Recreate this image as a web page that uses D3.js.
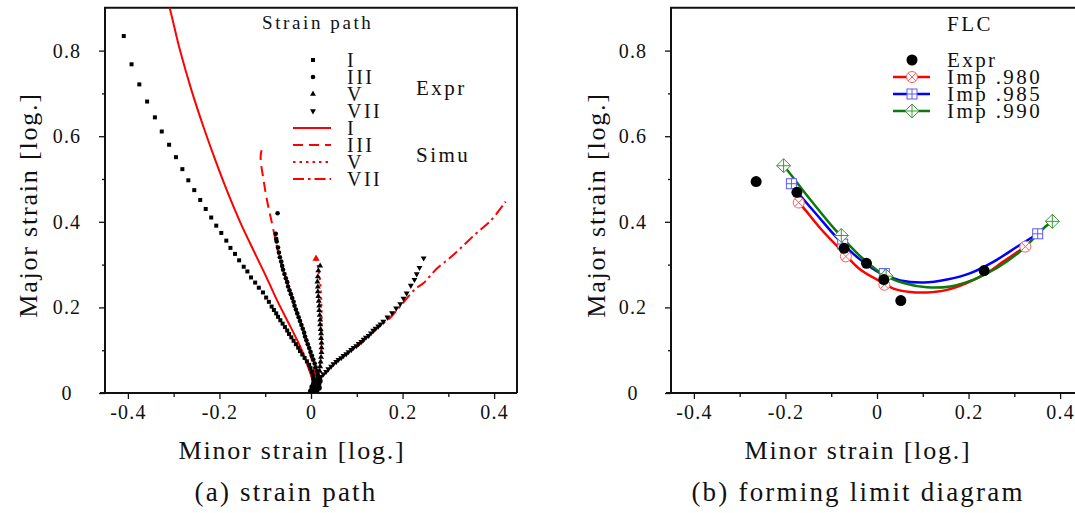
<!DOCTYPE html>
<html lang="en">
<head>
<meta charset="utf-8">
<title>strain path / forming limit diagram</title>
<script src="https://d3js.org/d3.v7.min.js"></script>
<style>
  body { margin: 0; background: #fff; }
  text { font-family: "Liberation Serif", "DejaVu Serif", serif; fill: #111; }
</style>
</head>
<body>
<svg width="1075" height="513"></svg>
<script>
// ticks
var xTicks = [-0.4, -0.2, 0, 0.2, 0.4];
var xMinor = [-0.3, -0.1, 0.1, 0.3];
var yTicks = [0, 0.2, 0.4, 0.6, 0.8];
var yMinor = [0.1, 0.3, 0.5, 0.7];

// (a) experimental strain paths [minor, major]
var expI = [[-0.409,0.834],[-0.392,0.768],[-0.375,0.721],[-0.358,0.681],[-0.341,0.644],[-0.326,0.611],[-0.310,0.580],[-0.295,0.551],[-0.281,0.523],[-0.268,0.497],[-0.255,0.474],[-0.242,0.451],[-0.230,0.430],[-0.218,0.410],[-0.207,0.391],[-0.196,0.374],[-0.185,0.356],[-0.176,0.339],[-0.166,0.325],[-0.157,0.310],[-0.147,0.295],[-0.139,0.284],[-0.131,0.270],[-0.122,0.258],[-0.114,0.246],[-0.105,0.235],[-0.098,0.223],[-0.092,0.213],[-0.086,0.202],[-0.081,0.194],[-0.076,0.186],[-0.072,0.178],[-0.067,0.170],[-0.062,0.162],[-0.057,0.154],[-0.052,0.146],[-0.048,0.138],[-0.043,0.130],[-0.038,0.122],[-0.033,0.114],[-0.028,0.106],[-0.024,0.098],[-0.019,0.090],[-0.014,0.082],[-0.009,0.074],[-0.004,0.066],[-0.001,0.058],[0.002,0.050],[0.004,0.042],[0.005,0.034],[0.006,0.026],[0.005,0.019],[0.004,0.012],[0.002,0.006],[0.000,0.001]];
var expIII = [[-0.073,0.420],[-0.077,0.372],[-0.076,0.360],[-0.075,0.354],[-0.072,0.340],[-0.070,0.328],[-0.068,0.317],[-0.065,0.307],[-0.063,0.297],[-0.061,0.288],[-0.058,0.278],[-0.055,0.268],[-0.052,0.259],[-0.050,0.249],[-0.047,0.240],[-0.044,0.231],[-0.041,0.222],[-0.038,0.213],[-0.036,0.204],[-0.033,0.195],[-0.030,0.186],[-0.027,0.177],[-0.024,0.168],[-0.021,0.159],[-0.018,0.150],[-0.015,0.141],[-0.013,0.132],[-0.010,0.123],[-0.007,0.114],[-0.004,0.105],[-0.001,0.096],[0.002,0.087],[0.005,0.078],[0.008,0.069],[0.010,0.060],[0.013,0.051],[0.015,0.042],[0.016,0.033],[0.015,0.024],[0.012,0.016],[0.008,0.009],[0.003,0.003]];
var expV = [[0.020,0.297],[0.016,0.286],[0.015,0.272],[0.014,0.260],[0.015,0.248],[0.015,0.237],[0.016,0.226],[0.017,0.215],[0.018,0.204],[0.018,0.193],[0.019,0.182],[0.020,0.171],[0.020,0.160],[0.021,0.149],[0.022,0.139],[0.022,0.128],[0.023,0.117],[0.023,0.106],[0.023,0.095],[0.022,0.084],[0.021,0.073],[0.020,0.062],[0.019,0.051],[0.017,0.040],[0.014,0.030],[0.009,0.019],[0.005,0.009],[0.001,0.002]];
var expVII = [[0.246,0.315],[0.237,0.293],[0.231,0.278],[0.226,0.265],[0.218,0.251],[0.209,0.233],[0.202,0.221],[0.195,0.208],[0.186,0.198],[0.177,0.187],[0.167,0.177],[0.158,0.167],[0.152,0.161],[0.147,0.156],[0.141,0.151],[0.136,0.146],[0.131,0.140],[0.126,0.134],[0.120,0.130],[0.115,0.125],[0.110,0.120],[0.104,0.115],[0.099,0.110],[0.093,0.106],[0.088,0.101],[0.082,0.096],[0.077,0.091],[0.071,0.087],[0.066,0.082],[0.060,0.078],[0.055,0.073],[0.049,0.068],[0.044,0.062],[0.038,0.056],[0.033,0.050],[0.027,0.044],[0.022,0.038],[0.018,0.033],[0.014,0.027],[0.011,0.021],[0.008,0.016],[0.005,0.011],[0.001,0.002]];
// start-up cluster where all paths leave the origin
var expStart = [[0.000,0.004],[0.004,0.008],[0.008,0.012],[0.011,0.018],[0.014,0.024],[0.003,0.014],[0.007,0.022],[0.010,0.030],[0.016,0.020],[0.019,0.028],[0.012,0.006],[0.017,0.012]];

// (a) simulated strain paths
var simI = [[-0.318,0.930],[-0.309,0.900],[-0.286,0.800],[-0.261,0.707],[-0.235,0.622],[-0.209,0.544],[-0.184,0.474],[-0.155,0.400],[-0.126,0.334],[-0.098,0.272],[-0.073,0.214],[-0.045,0.155],[-0.022,0.105],[-0.006,0.060],[0.003,0.030],[0.004,0.012],[0,0]];
var simIII = [[-0.108,0.567],[-0.110,0.553],[-0.109,0.535],[-0.104,0.500],[-0.097,0.455],[-0.088,0.410],[-0.080,0.370],[-0.072,0.330],[-0.062,0.290],[-0.050,0.250],[-0.036,0.203],[-0.020,0.155],[-0.006,0.105],[0.006,0.060],[0.010,0.030],[0.006,0.010],[0,0]];
var simV = [[0.011,0.314],[0.016,0.290],[0.020,0.258],[0.023,0.196],[0.023,0.134],[0.021,0.079],[0.016,0.040],[0.009,0.013],[0,0]];
var simVII = [[0,0],[0.010,0.015],[0.030,0.045],[0.060,0.077],[0.085,0.097],[0.107,0.114],[0.129,0.135],[0.151,0.157],[0.173,0.176],[0.199,0.208],[0.228,0.243],[0.246,0.257],[0.275,0.291],[0.305,0.317],[0.334,0.346],[0.363,0.375],[0.392,0.402],[0.425,0.447]];

// (b) forming limit curves
var flcExpr = [[-0.264,0.494],[-0.175,0.469],[-0.072,0.338],[-0.023,0.303],[0.015,0.265],[0.052,0.216],[0.234,0.286]];
var imp980 = [[-0.171,0.445],[-0.068,0.319],[0.016,0.253],[0.324,0.342]];
var imp985 = [[-0.187,0.489],[-0.075,0.348],[0.016,0.279],[0.351,0.372]];
var imp990 = [[-0.204,0.531],[-0.078,0.368],[0.020,0.273],[0.383,0.401]];
var fit980 = [[-0.171,0.445],[-0.160,0.432],[-0.124,0.385],[-0.076,0.331],[-0.036,0.288],[0.007,0.261],[0.036,0.244],[0.073,0.236],[0.109,0.235],[0.153,0.241],[0.196,0.257],[0.240,0.280],[0.276,0.307],[0.324,0.342]];
var fit985 = [[-0.187,0.489],[-0.178,0.475],[-0.131,0.416],[-0.087,0.362],[-0.036,0.311],[0.007,0.280],[0.051,0.263],[0.102,0.258],[0.153,0.265],[0.204,0.280],[0.255,0.307],[0.305,0.341],[0.351,0.372]];
var fit990 = [[-0.204,0.531],[-0.194,0.518],[-0.145,0.451],[-0.091,0.381],[-0.036,0.319],[0.015,0.276],[0.058,0.257],[0.109,0.247],[0.160,0.249],[0.211,0.265],[0.262,0.292],[0.313,0.331],[0.367,0.388],[0.383,0.401]];

var pathNames = ["I", "III", "V", "VII"];
var flcNames = ["Expr", "Imp .980", "Imp .985", "Imp .990"];

var svg = d3.select("svg");
var yScale = d3.scaleLinear().domain([0, 0.9]).range([393, 7.8]);
var xLeft = d3.scaleLinear().domain([-0.45, 0.45]).range([105, 517]);
var xRight = d3.scaleLinear().domain([-0.45, 0.45]).range([671, 1083]);

function fmt(d) { return d === 0 ? "0" : String(d); }

// draws frame, ticks and labels of one panel
function drawAxes(x, y, ylabX, titleX, capX, caption) {
    var r = x.range();
    var g = svg.append("g");
    g.append("g").attr("transform", "translate(0,393)")
        .call(d3.axisBottom(x).tickValues(xMinor).tickSize(4).tickSizeOuter(0).tickFormat(""));
    g.append("g").attr("transform", "translate(0,393)")
        .call(d3.axisBottom(x).tickValues(xTicks).tickSize(6).tickSizeOuter(0).tickFormat(fmt))
        .attr("font-size", 20).attr("font-family", null)
        .selectAll("text").attr("y", 12).style("letter-spacing", "1.2px");
    g.append("g").attr("transform", "translate(" + r[0] + ",0)")
        .call(d3.axisLeft(y).tickValues(yMinor).tickSize(3).tickSizeOuter(0).tickFormat(""));
    g.append("g").attr("transform", "translate(" + r[0] + ",0)")
        .call(d3.axisLeft(y).tickValues(yTicks).tickSize(6).tickSizeOuter(0).tickFormat(fmt))
        .attr("font-size", 20).attr("font-family", null)
        .selectAll("text").attr("x", -38).attr("text-anchor", "middle").style("letter-spacing", "1.2px");
    g.selectAll(".domain").remove();
    g.selectAll(".tick line").attr("stroke", "#111").attr("stroke-width", 1.3);

    g.append("line").attr("x1", r[0] - 5).attr("x2", r[1]).attr("y1", 393).attr("y2", 393)
        .attr("stroke", "#111").attr("stroke-width", 2);
    g.append("polyline")
        .attr("points", [[r[0], 393], [r[0], 7.8], [r[1], 7.8], [r[1], 393]].join(" "))
        .attr("fill", "none").attr("stroke", "#111").attr("stroke-width", 2);

    svg.append("text").attr("transform", "translate(" + ylabX + ",205) rotate(-90)")
        .attr("text-anchor", "middle").attr("dy", "0.35em")
        .attr("font-size", 26).style("letter-spacing", "1.8px")
        .text("Major strain [log.]");
    svg.append("text").attr("x", titleX).attr("y", 459).attr("text-anchor", "middle")
        .attr("font-size", 26).style("letter-spacing", "1.8px")
        .text("Minor strain [log.]");
    svg.append("text").attr("x", capX).attr("y", 501).attr("text-anchor", "middle")
        .attr("font-size", 27).style("letter-spacing", "2.2px")
        .text(caption);
}

drawAxes(xLeft, yScale, 28, 292, 286, "(a) strain path");
drawAxes(xRight, yScale, 596, 858, 858, "(b) forming limit diagram");

// marker helpers
function sq(sel) {
    return sel.append("rect").attr("x", -2).attr("y", -2).attr("width", 4).attr("height", 4).attr("fill", "#000");
}
function dot(sel) {
    return sel.append("circle").attr("r", 2.3).attr("fill", "#000");
}
function tri(sel) {
    return sel.append("path").attr("d", d3.symbol(d3.symbolTriangle, 15)()).attr("fill", "#000");
}
function triDown(sel) {
    return sel.append("path").attr("d", d3.symbol(d3.symbolTriangle, 15)())
        .attr("transform", "rotate(180)").attr("fill", "#000");
}
var markFns = [sq, dot, tri, triDown];
var dashes = [null, "10,6", "2.5,4", "11,4,2.5,4"];

// (a) panel
svg.append("clipPath").attr("id", "clipA").append("rect")
    .attr("x", 105).attr("y", 7.8).attr("width", 412).attr("height", 385);
var pa = svg.append("g").attr("clip-path", "url(#clipA)");
var lineA = d3.line().x(function(d) { return xLeft(d[0]); }).y(function(d) { return yScale(d[1]); })
    .curve(d3.curveCatmullRom);

[simI, simIII, simV, simVII].forEach(function(s, i) {
    pa.append("path").datum(s).attr("d", lineA)
        .attr("fill", "none").attr("stroke", "#f00").attr("stroke-width", 2)
        .attr("stroke-dasharray", dashes[i]);
});
pa.append("path").attr("d", d3.symbol(d3.symbolTriangle, 22)())
    .attr("transform", "translate(" + xLeft(simV[0][0]) + "," + yScale(simV[0][1]) + ")")
    .attr("fill", "#f00");
[expI, expIII, expV, expVII].forEach(function(s, i) {
    pa.selectAll(null).data(s).enter().append("g")
        .attr("transform", function(d) { return "translate(" + xLeft(d[0]) + "," + yScale(d[1]) + ")"; })
        .each(function() { markFns[i](d3.select(this)); });
});
pa.selectAll(null).data(expStart).enter().append("circle")
    .attr("cx", function(d) { return xLeft(d[0]); })
    .attr("cy", function(d) { return yScale(d[1]); })
    .attr("r", 3).attr("fill", "#000");

// (a) legend
svg.append("text").attr("x", 262).attr("y", 29).attr("font-size", 19)
    .style("letter-spacing", "2.6px").text("Strain path");
pathNames.forEach(function(n, i) {
    var yy = 60 + i * 17;
    markFns[i](svg.append("g").attr("transform", "translate(313," + yy + ")"));
    svg.append("text").attr("x", 347).attr("y", yy + 7).attr("font-size", 20)
        .style("letter-spacing", "2.5px").text(n);
    var ys = 128 + i * 17;
    svg.append("line").attr("x1", 293).attr("x2", 331).attr("y1", ys).attr("y2", ys)
        .attr("stroke", "#f00").attr("stroke-width", 2).attr("stroke-dasharray", dashes[i]);
    svg.append("text").attr("x", 347).attr("y", ys + 7).attr("font-size", 20)
        .style("letter-spacing", "2.5px").text(n);
});
svg.append("text").attr("x", 416).attr("y", 95).attr("font-size", 21)
    .style("letter-spacing", "2.5px").text("Expr");
svg.append("text").attr("x", 416).attr("y", 162).attr("font-size", 21)
    .style("letter-spacing", "2.5px").text("Simu");

// (b) panel
var lineB = d3.line().x(function(d) { return xRight(d[0]); }).y(function(d) { return yScale(d[1]); })
    .curve(d3.curveCatmullRom);
var impColors = ["#ff0000", "#0000ff", "#0a7a0a"];
var impMark = ["#ff5a5a", "#5a5aff", "#3a9a3a"];

function impMarker(sel, k) {
    var c = impMark[k];
    if (k === 0) {
        sel.append("circle").attr("r", 5.5).attr("fill", "#fff").attr("stroke", c);
        sel.append("path").attr("d", "M-3.9,-3.9L3.9,3.9M-3.9,3.9L3.9,-3.9").attr("stroke", c);
    } else if (k === 1) {
        sel.append("rect").attr("x", -5).attr("y", -5).attr("width", 10).attr("height", 10)
            .attr("fill", "#fff").attr("stroke", c);
        sel.append("path").attr("d", "M-5,0L5,0M0,-5L0,5").attr("stroke", c);
    } else {
        sel.append("path").attr("d", "M0,-7L7,0L0,7L-7,0Z").attr("fill", "#fff").attr("stroke", c);
        sel.append("path").attr("d", "M-7,0L7,0M0,-7L0,7").attr("stroke", c);
    }
}

var pb = svg.append("g");
[fit980, fit985, fit990].forEach(function(s, k) {
    pb.append("path").datum(s).attr("d", lineB)
        .attr("fill", "none").attr("stroke", impColors[k]).attr("stroke-width", 2.5);
});
[imp980, imp985, imp990].forEach(function(s, k) {
    pb.selectAll(null).data(s).enter().append("g")
        .attr("transform", function(d) { return "translate(" + xRight(d[0]) + "," + yScale(d[1]) + ")"; })
        .each(function() { impMarker(d3.select(this), k); });
});
pb.selectAll(null).data(flcExpr).enter().append("circle")
    .attr("cx", function(d) { return xRight(d[0]); })
    .attr("cy", function(d) { return yScale(d[1]); })
    .attr("r", 5.5).attr("fill", "#000");

// (b) legend
svg.append("text").attr("x", 947).attr("y", 31).attr("font-size", 21)
    .style("letter-spacing", "2.5px").text("FLC");
flcNames.forEach(function(n, i) {
    var yy = 60 + i * 17;
    var lg = svg.append("g").attr("transform", "translate(912," + yy + ")");
    if (i === 0) {
        lg.append("circle").attr("r", 5.5).attr("fill", "#000");
    } else {
        lg.append("line").attr("x1", -19).attr("x2", 18).attr("stroke", impColors[i - 1]).attr("stroke-width", 2.5);
        impMarker(lg, i - 1);
    }
    svg.append("text").attr("x", 947).attr("y", yy + 7).attr("font-size", 21)
        .style("letter-spacing", "2.4px").text(n);
});
</script>
</body>
</html>
